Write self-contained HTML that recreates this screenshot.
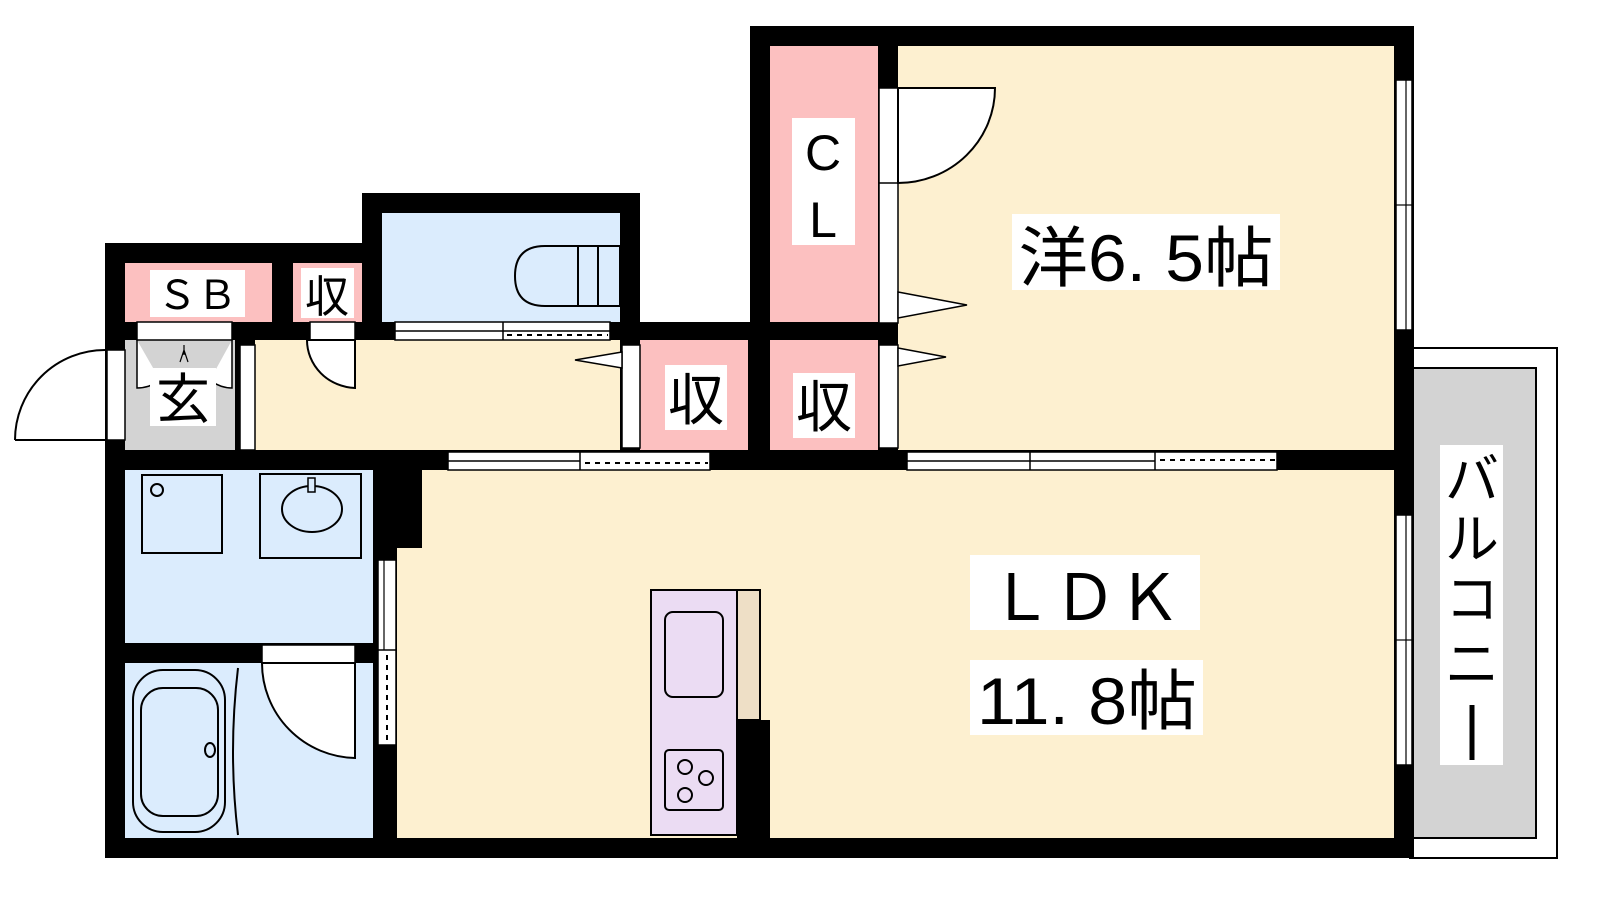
<!DOCTYPE html>
<html><head><meta charset="utf-8"><style>
html,body{margin:0;padding:0;background:#fff;width:1600px;height:900px;overflow:hidden}
svg{display:block}
text{font-family:"Liberation Sans","Noto Sans CJK JP",sans-serif;fill:#000}
</style></head><body>
<svg width="1600" height="900" viewBox="0 0 1600 900" xmlns="http://www.w3.org/2000/svg">
<!-- balcony -->
<rect x="1410" y="348" width="147" height="510" fill="#fff" stroke="#000" stroke-width="2"/>
<rect x="1410" y="368" width="126" height="470" fill="#d3d3d3" stroke="#000" stroke-width="2"/>
<!-- building silhouette -->
<polygon points="105,243 362,243 362,193 640,193 640,322 750,322 750,26 1414,26 1414,858 105,858" fill="#000"/>
<!-- rooms -->
<rect x="125" y="263" width="147" height="59" fill="#fcc0c0"/>
<rect x="293" y="263" width="69" height="59" fill="#fcc0c0"/>
<rect x="382" y="213" width="238" height="109" fill="#dbecfd"/>
<rect x="125" y="340" width="110" height="110" fill="#d3d3d3"/>
<rect x="255" y="340" width="365" height="110" fill="#fdf0d0"/>
<rect x="640" y="340" width="108" height="110" fill="#fcc0c0"/>
<rect x="770" y="340" width="108" height="110" fill="#fcc0c0"/>
<rect x="770" y="46" width="108" height="276" fill="#fcc0c0"/>
<rect x="898" y="46" width="496" height="404" fill="#fdf0d0"/>
<rect x="397" y="470" width="997" height="368" fill="#fdf0d0"/>
<rect x="373" y="470" width="49" height="78" fill="#000"/>
<rect x="125" y="470" width="248" height="173" fill="#dbecfd"/>
<rect x="125" y="663" width="248" height="175" fill="#dbecfd"/>
<!-- entry door -->
<rect x="107" y="350" width="18" height="90" fill="#fff" stroke="#000" stroke-width="1.5"/>
<path d="M15,440 A90,90 0 0 1 105,350 L105,440 Z" fill="#fff" stroke="none"/>
<path d="M15,440 A90,90 0 0 1 105,350" fill="none" stroke="#000" stroke-width="2"/>
<line x1="15" y1="440" x2="105" y2="440" stroke="#000" stroke-width="2"/>
<rect x="240" y="345" width="15" height="105" fill="#fff" stroke="#000" stroke-width="1.5"/>
<!-- SB door -->
<rect x="137" y="322" width="95" height="18" fill="#fff" stroke="#000" stroke-width="1.5"/>
<path d="M137,340 L137,388 Q150,388 160,380 M232,340 L232,388 Q220,388 210,380" fill="#fff" stroke="#000" stroke-width="1.5"/>
<path d="M184,345 L184,355 M180,362 L184,350 L188,362" fill="none" stroke="#000" stroke-width="1.2"/>
<!-- small closet door -->
<rect x="310" y="322" width="45" height="18" fill="#fff" stroke="#000" stroke-width="1.5"/>
<path d="M355,340 L355,388 A50,48 0 0 1 307,340 Z" fill="#fff" stroke="#000" stroke-width="2"/>
<!-- toilet door -->
<rect x="395" y="322" width="215" height="18" fill="#fff" stroke="#000" stroke-width="1.5"/>
<line x1="395" y1="331" x2="610" y2="331" stroke="#000" stroke-width="1.5"/>
<line x1="503" y1="322" x2="503" y2="340" stroke="#000" stroke-width="1.5"/>
<line x1="507" y1="335" x2="608" y2="335" stroke="#000" stroke-width="2" stroke-dasharray="5,5"/>
<!-- toilet -->
<path d="M578,246 L545,246 Q515,246 515,276 Q515,306 545,306 L578,306 Z" fill="none" stroke="#000" stroke-width="2"/>
<rect x="578" y="246" width="20" height="60" fill="none" stroke="#000" stroke-width="2"/>
<rect x="598" y="246" width="22" height="60" fill="none" stroke="#000" stroke-width="2"/>
<!-- hallway folding doors -->
<rect x="622" y="345" width="18" height="103" fill="#fff" stroke="#000" stroke-width="1.5"/>
<polygon points="622,352 575,360 622,368" fill="#fff" stroke="#000" stroke-width="1.5"/>
<!-- bedroom doors -->
<rect x="879" y="88" width="19" height="235" fill="#fff" stroke="#000" stroke-width="1.5"/>
<line x1="879" y1="183" x2="898" y2="183" stroke="#000" stroke-width="1.5"/>
<path d="M898,88 L995,88 A97,95 0 0 1 898,183 Z" fill="#fff" stroke="#000" stroke-width="2"/>
<polygon points="898,292 967,305 898,318" fill="#fff" stroke="#000" stroke-width="1.5"/>
<rect x="879" y="345" width="19" height="103" fill="#fff" stroke="#000" stroke-width="1.5"/>
<polygon points="898,348 946,357 898,366" fill="#fff" stroke="#000" stroke-width="1.5"/>
<!-- bedroom/LDK sliding doors -->
<rect x="907" y="452" width="370" height="18" fill="#fff" stroke="#000" stroke-width="1.5"/>
<line x1="907" y1="461" x2="1155" y2="461" stroke="#000" stroke-width="1.5"/>
<line x1="1030" y1="452" x2="1030" y2="470" stroke="#000" stroke-width="1.5"/>
<line x1="1155" y1="452" x2="1155" y2="470" stroke="#000" stroke-width="1.5"/>
<line x1="1160" y1="460" x2="1275" y2="460" stroke="#000" stroke-width="2" stroke-dasharray="5,5"/>
<!-- hallway/LDK door -->
<rect x="448" y="452" width="262" height="18" fill="#fff" stroke="#000" stroke-width="1.5"/>
<line x1="448" y1="461" x2="580" y2="461" stroke="#000" stroke-width="1.5"/>
<line x1="580" y1="452" x2="580" y2="470" stroke="#000" stroke-width="1.5"/>
<line x1="585" y1="463" x2="708" y2="463" stroke="#000" stroke-width="2" stroke-dasharray="5,5"/>
<!-- right windows -->
<rect x="1396" y="80" width="16" height="250" fill="#fff" stroke="#000" stroke-width="1.5"/>
<line x1="1406" y1="80" x2="1406" y2="330" stroke="#000" stroke-width="1.2"/>
<line x1="1396" y1="205" x2="1412" y2="205" stroke="#000" stroke-width="1.2"/>
<rect x="1396" y="515" width="16" height="250" fill="#fff" stroke="#000" stroke-width="1.5"/>
<line x1="1406" y1="515" x2="1406" y2="765" stroke="#000" stroke-width="1.2"/>
<line x1="1396" y1="640" x2="1412" y2="640" stroke="#000" stroke-width="1.2"/>
<!-- washroom -->
<rect x="142" y="475" width="80" height="78" fill="none" stroke="#000" stroke-width="2"/>
<circle cx="157" cy="490" r="6" fill="none" stroke="#000" stroke-width="2"/>
<rect x="260" y="474" width="101" height="84" fill="none" stroke="#000" stroke-width="2"/>
<ellipse cx="312" cy="509" rx="30" ry="23" fill="none" stroke="#000" stroke-width="2"/>
<rect x="308" y="478" width="7" height="14" fill="#dbecfd" stroke="#000" stroke-width="1.5"/>
<!-- wash/LDK sliding door -->
<rect x="378" y="560" width="18" height="185" fill="#fff" stroke="#000" stroke-width="1.5"/>
<line x1="384" y1="560" x2="384" y2="650" stroke="#000" stroke-width="1.2"/>
<line x1="378" y1="650" x2="396" y2="650" stroke="#000" stroke-width="1.5"/>
<line x1="387" y1="655" x2="387" y2="743" stroke="#000" stroke-width="2" stroke-dasharray="5,5"/>
<!-- bath wall and door -->
<rect x="125" y="643" width="248" height="20" fill="#000"/>
<rect x="262" y="645" width="93" height="18" fill="#fff" stroke="#000" stroke-width="1.5"/>
<path d="M262,663 L355,663 L355,758 A95,95 0 0 1 262,663 Z" fill="#fff" stroke="#000" stroke-width="2"/>
<!-- bathtub -->
<path d="M238,668 Q228,752 238,835" fill="none" stroke="#000" stroke-width="2"/>
<rect x="133" y="670" width="92" height="162" rx="30" fill="none" stroke="#000" stroke-width="2"/>
<rect x="141" y="688" width="77" height="128" rx="22" fill="none" stroke="#000" stroke-width="2"/>
<ellipse cx="210" cy="750" rx="5" ry="7" fill="none" stroke="#000" stroke-width="2"/>
<!-- kitchen -->
<rect x="651" y="590" width="86" height="245" fill="#ebdcf3" stroke="#000" stroke-width="2"/>
<rect x="737" y="590" width="23" height="130" fill="#eedfc6" stroke="#000" stroke-width="2"/>
<rect x="737" y="720" width="33" height="118" fill="#000"/>
<rect x="665" y="612" width="58" height="85" rx="8" fill="none" stroke="#000" stroke-width="2"/>
<rect x="665" y="750" width="58" height="60" rx="4" fill="none" stroke="#000" stroke-width="2"/>
<circle cx="685" cy="767" r="7" fill="none" stroke="#000" stroke-width="2"/>
<circle cx="706" cy="778" r="7" fill="none" stroke="#000" stroke-width="2"/>
<circle cx="685" cy="795" r="7" fill="none" stroke="#000" stroke-width="2"/>
<!-- labels -->
<rect x="150" y="270" width="95" height="47" fill="#fff"/>
<text x="197" y="309" font-size="40" text-anchor="middle">ＳＢ</text>
<rect x="301" y="268" width="53" height="50" fill="#fff"/>
<text x="327" y="312" font-size="44" text-anchor="middle">収</text>
<rect x="150" y="368" width="66" height="58" fill="#fff"/>
<text x="183" y="418" font-size="54" text-anchor="middle">玄</text>
<rect x="665" y="365" width="62" height="65" fill="#fff"/>
<text x="696" y="420" font-size="56" text-anchor="middle">収</text>
<rect x="793" y="373" width="62" height="65" fill="#fff"/>
<text x="824" y="427" font-size="56" text-anchor="middle">収</text>
<rect x="792" y="118" width="63" height="127" fill="#fff"/>
<text x="823" y="170" font-size="50" text-anchor="middle">C</text>
<text x="823" y="237" font-size="50" text-anchor="middle">L</text>
<rect x="1012" y="214" width="268" height="76" fill="#fff"/>
<text x="1146" y="281" font-size="66" text-anchor="middle" textLength="255" lengthAdjust="spacingAndGlyphs">洋6. 5帖</text>
<rect x="970" y="555" width="230" height="75" fill="#fff"/>
<text x="1085" y="620" font-size="64" text-anchor="middle">ＬＤＫ</text>
<rect x="970" y="660" width="233" height="75" fill="#fff"/>
<text x="1087" y="724" font-size="66" text-anchor="middle" textLength="220" lengthAdjust="spacingAndGlyphs">11. 8帖</text>
<rect x="1440" y="445" width="63" height="320" fill="#fff"/>
<text x="1472" y="498" font-size="54" text-anchor="middle">バ</text>
<text x="1472" y="558" font-size="54" text-anchor="middle">ル</text>
<text x="1472" y="618" font-size="54" text-anchor="middle">コ</text>
<text x="1472" y="683" font-size="54" text-anchor="middle">ニ</text>
<line x1="1472" y1="705" x2="1472" y2="760" stroke="#000" stroke-width="5"/>
</svg>
</body></html>
